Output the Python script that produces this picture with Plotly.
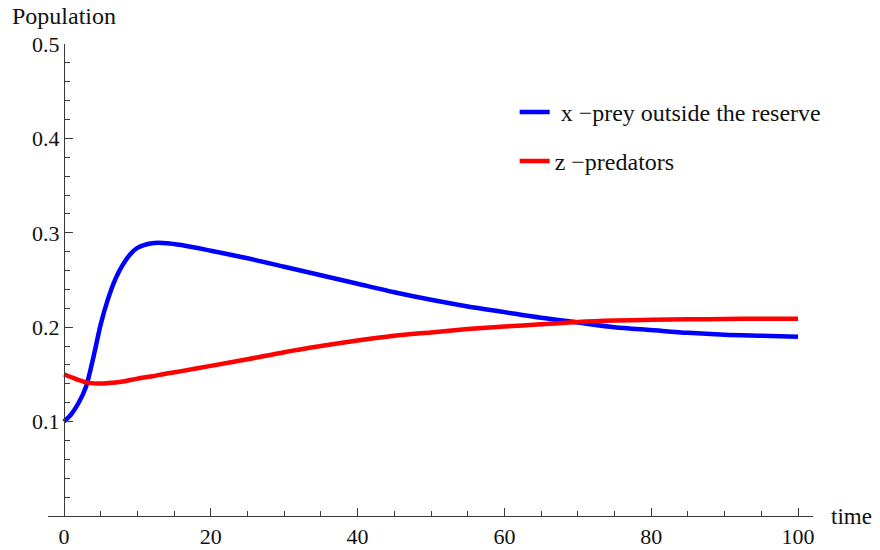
import plotly.graph_objects as go

# time points
t = [0, 1, 2, 3, 4, 5, 6, 7, 8, 9, 10, 12, 14, 16, 20, 25, 30, 35, 40, 45,
     50, 55, 60, 65, 70, 75, 80, 85, 90, 95, 100]

# x - prey outside the reserve
prey = [0.100, 0.108, 0.120, 0.137, 0.168, 0.203, 0.230, 0.251, 0.266, 0.277,
        0.284, 0.289, 0.289, 0.287, 0.281, 0.273, 0.264, 0.255, 0.246, 0.237,
        0.229, 0.222, 0.216, 0.210, 0.205, 0.200, 0.197, 0.194, 0.192, 0.191,
        0.190]

# z - predators
pred = [0.150, 0.147, 0.144, 0.1415, 0.1405, 0.1403, 0.1408, 0.1415, 0.1425,
        0.1440, 0.1455, 0.148, 0.151, 0.1535, 0.159, 0.166, 0.1735, 0.180,
        0.186, 0.191, 0.1945, 0.198, 0.2007, 0.203, 0.2055, 0.207, 0.2078,
        0.2083, 0.2087, 0.209, 0.209]

x_ticks = [0, 20, 40, 60, 80, 100]
y_ticks = [0.1, 0.2, 0.3, 0.4, 0.5]
y_ticklabels = ["0.1", "0.2", "0.3", "0.4", "0.5"]

names = ["\u00a0x \u2212prey outside the reserve", "z \u2212predators"]

FONT = "Liberation Serif, Times New Roman, serif"
AX = "#3a3a3a"

fig = go.Figure()
fig.add_trace(go.Scatter(x=t, y=prey, mode="lines", name=names[0],
                         line=dict(color="#0000FF", width=4.5, shape="spline",
                                   smoothing=0.8),
                         legendgroup="a"))
fig.add_trace(go.Scatter(x=t, y=pred, mode="lines", name=names[1],
                         line=dict(color="#FF0000", width=4.5, shape="spline",
                                   smoothing=0.8),
                         legendgroup="b"))

fig.update_layout(
    width=880, height=550,
    margin=dict(l=48, r=67, t=44, b=34),
    paper_bgcolor="white", plot_bgcolor="white",
    font=dict(family=FONT, size=22, color="#111111"),
    showlegend=True,
    legend=dict(x=0.610, y=0.903, xanchor="left", yanchor="top",
                bgcolor="rgba(0,0,0,0)", font=dict(family=FONT, size=24),
                tracegroupgap=15, traceorder="grouped"),
    xaxis=dict(range=[-2.18, 102.04], showgrid=False, zeroline=False,
               automargin=False,
               showline=True, linecolor=AX, linewidth=1.3,
               tickvals=x_ticks, ticks="inside", ticklen=8, tickwidth=1.2,
               tickcolor=AX, minor=dict(dtick=5, tick0=0, ticks="inside",
                                        ticklen=5, tickwidth=1, tickcolor=AX),
               ticklabelstandoff=0,
               tickfont=dict(family=FONT, size=22)),
    yaxis=dict(range=[0, 0.5], showgrid=False, zeroline=False,
               automargin=False,
               showline=True, linecolor=AX, linewidth=1.3,
               anchor="free", position=(64 - 48) / 765,
               tickvals=y_ticks, ticktext=y_ticklabels, ticks="inside",
               ticklen=8, tickwidth=1.2, tickcolor=AX,
               minor=dict(dtick=0.02, tick0=0, ticks="inside", ticklen=5,
                          tickwidth=1, tickcolor=AX),
               tickfont=dict(family=FONT, size=22)),
    annotations=[
        dict(text="Population", xref="paper", yref="paper", x=-38 / 765,
             y=1.0, xanchor="left", yanchor="bottom", showarrow=False,
             yshift=13, font=dict(family=FONT, size=24)),
        dict(text="time", xref="paper", yref="paper", x=1.0, y=0.0,
             xanchor="left", yanchor="middle", xshift=16, showarrow=False,
             font=dict(family=FONT, size=23)),
    ],
)

fig.write_html("out.html",
               config={"displayModeBar": False},
               post_script="document.body.style.margin='0';")
